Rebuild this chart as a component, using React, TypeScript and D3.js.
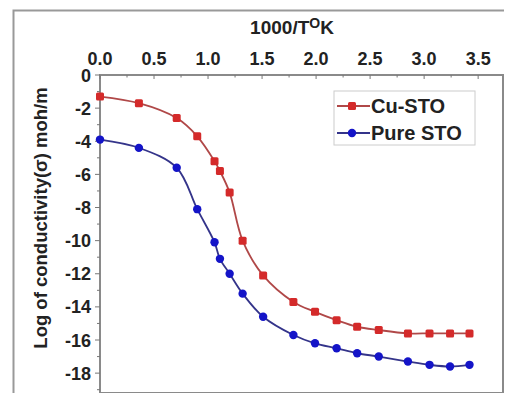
import React, { useEffect, useRef } from 'react';
import * as d3 from 'd3';

const invT = [0.0, 0.36, 0.71, 0.9, 1.06, 1.11, 1.2, 1.32, 1.51, 1.79, 1.99, 2.19, 2.38, 2.58, 2.85, 3.05, 3.24, 3.42];
const cuSto = [-1.3, -1.7, -2.6, -3.7, -5.2, -5.8, -7.1, -10.0, -12.1, -13.7, -14.3, -14.8, -15.2, -15.4, -15.6, -15.6, -15.6, -15.6];
const pureSto = [-3.9, -4.4, -5.6, -8.1, -10.1, -11.1, -12.0, -13.2, -14.6, -15.7, -16.2, -16.5, -16.8, -17.0, -17.3, -17.5, -17.6, -17.5];
const xTicks = [0, 0.5, 1, 1.5, 2, 2.5, 3, 3.5];
const yTicks = [0, -2, -4, -6, -8, -10, -12, -14, -16, -18];
const seriesNames = ['Cu-STO', 'Pure STO'];

const App = () => {
  const ref = useRef<SVGSVGElement>(null);

  useEffect(() => {
    const width = 512;
    const height = 401;
    const m = { left: 100, top: 75, right: 503, bottom: 393 };
    const svg = d3.select(ref.current);
    svg.selectAll('*').remove();

    const x = d3.scaleLinear().domain([0, 3.73]).range([m.left, m.right]);
    const y = d3.scaleLinear().domain([-19.2, 0]).range([m.bottom, m.top]);
    const font = 'Arial, "Liberation Sans", sans-serif';

    svg.append('rect').attr('width', width).attr('height', height).attr('fill', '#fff');
    // outer frame (left + top visible)
    svg.append('path').attr('d', `M13.5,${height} V10.5 H${width}`)
      .attr('fill', 'none').attr('stroke', '#999').attr('stroke-width', 2);

    // plot box
    svg.append('rect')
      .attr('x', m.left).attr('y', m.top)
      .attr('width', m.right - m.left).attr('height', m.bottom - m.top)
      .attr('fill', 'none').attr('stroke', '#8a8a8a').attr('stroke-width', 2);

    // top axis ticks (inward)
    const g = svg.append('g').attr('stroke', '#777').attr('stroke-width', 1);
    d3.range(0, 3.76, 0.25).forEach(v => {
      const major = Math.abs(v * 2 - Math.round(v * 2)) < 1e-6;
      g.append('line').attr('x1', x(v)).attr('x2', x(v))
        .attr('y1', m.top).attr('y2', m.top + (major ? 4 : 2.5));
    });
    // left axis ticks (outward)
    d3.range(0, -19.1, -1).forEach(v => {
      const major = v % 2 === 0;
      g.append('line').attr('y1', y(v)).attr('y2', y(v))
        .attr('x1', m.left).attr('x2', m.left - (major ? 5 : 3));
    });

    svg.append('g').selectAll('text').data(xTicks).join('text')
      .attr('x', d => x(d)).attr('y', 65)
      .attr('text-anchor', 'middle')
      .attr('font-family', font).attr('font-weight', 'bold').attr('font-size', 18)
      .attr('fill', '#222')
      .text(d => d.toFixed(1));

    svg.append('g').selectAll('text').data(yTicks).join('text')
      .attr('x', 91).attr('y', d => y(d) + 6.5)
      .attr('text-anchor', 'end')
      .attr('font-family', font).attr('font-weight', 'bold').attr('font-size', 18)
      .attr('fill', '#222')
      .text(d => String(d));

    const title = svg.append('text')
      .attr('x', 292).attr('y', 34)
      .attr('text-anchor', 'middle')
      .attr('font-family', font).attr('font-weight', 'bold').attr('font-size', 19)
      .attr('fill', '#222');
    title.append('tspan').text('1000/T');
    title.append('tspan').attr('dy', -6).attr('font-size', 14).text('O');
    title.append('tspan').attr('dy', 6).text('K');

    svg.append('text')
      .attr('transform', 'translate(47,218) rotate(-90)')
      .attr('text-anchor', 'middle')
      .attr('font-family', font).attr('font-weight', 'bold').attr('font-size', 18.5)
      .attr('fill', '#222')
      .text('Log of conductivity(σ) moh/m');

    const series = [
      { name: seriesNames[0], values: cuSto, line: '#b04848', marker: '#d42a2a', shape: 'square' },
      { name: seriesNames[1], values: pureSto, line: '#34348a', marker: '#1414c8', shape: 'circle' }
    ];

    const line = d3.line<number>()
      .x((_, i) => x(invT[i]))
      .y(d => y(d))
      .curve(d3.curveCatmullRom.alpha(0.5));

    const drawMarker = (sel: any, shape: string, color: string, cx: number, cy: number) => {
      if (shape === 'square') {
        sel.append('rect').attr('x', cx - 4).attr('y', cy - 4).attr('width', 8).attr('height', 8)
          .attr('rx', 1.5).attr('fill', color);
      } else {
        sel.append('circle').attr('cx', cx).attr('cy', cy).attr('r', 4.2).attr('fill', color);
      }
    };

    series.forEach(s => {
      svg.append('path').datum(s.values)
        .attr('d', line).attr('fill', 'none')
        .attr('stroke', s.line).attr('stroke-width', 1.8);
      const mg = svg.append('g');
      s.values.forEach((v, i) => drawMarker(mg, s.shape, s.marker, x(invT[i]), y(v)));
    });

    // legend
    const lg = svg.append('g');
    lg.append('rect').attr('x', 334).attr('y', 91).attr('width', 141).attr('height', 54)
      .attr('fill', '#fff').attr('stroke', '#ccc').attr('stroke-width', 1);
    series.forEach((s, i) => {
      const ly = 106 + i * 27;
      lg.append('line').attr('x1', 337).attr('x2', 370).attr('y1', ly).attr('y2', ly)
        .attr('stroke', s.line).attr('stroke-width', 1.8);
      drawMarker(lg, s.shape, s.marker, 352, ly);
      lg.append('text').attr('x', 371).attr('y', ly + 7)
        .attr('font-family', font).attr('font-weight', 'bold').attr('font-size', 20)
        .attr('fill', '#222').text(s.name);
    });
  }, []);

  return (
    <div style={{ margin: -8, width: 512, height: 401 }}>
      <svg ref={ref} width={512} height={401} style={{ display: 'block' }} />
    </div>
  );
};

export default App;
